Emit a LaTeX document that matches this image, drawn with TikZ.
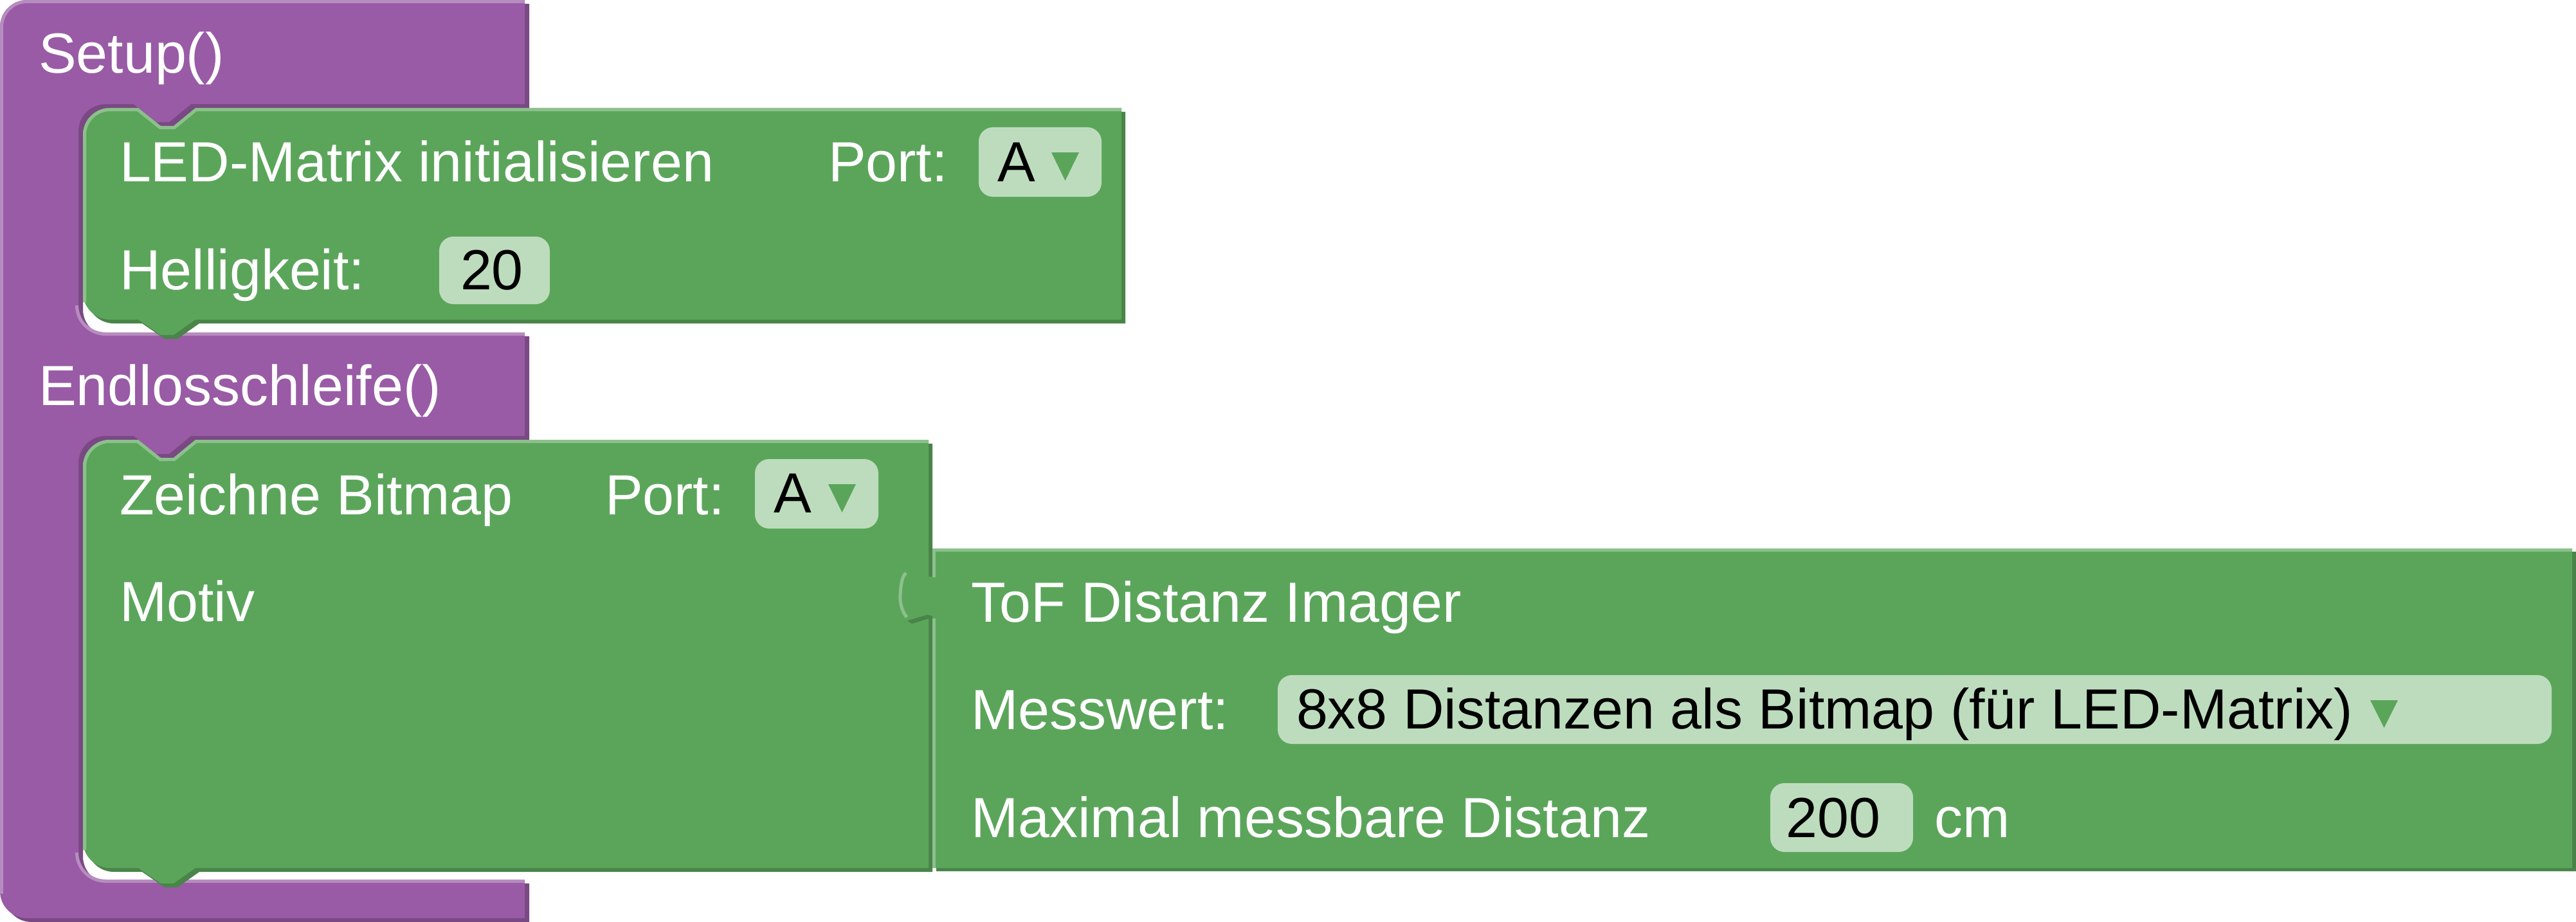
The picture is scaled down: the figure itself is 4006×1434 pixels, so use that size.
\documentclass[tikz,border=0pt]{standalone}
\usepackage{fontspec}
\setmainfont{Liberation Sans}
\definecolor{pmain}{HTML}{995BA5}
\definecolor{pdark}{HTML}{7A4984}
\definecolor{phl}{HTML}{B78CC0}
\definecolor{gmain}{HTML}{5BA55B}
\definecolor{gdark}{HTML}{498449}
\definecolor{ghl}{HTML}{8CC08C}
\definecolor{gfield}{HTML}{BDDCBD}
\tikzset{
  lbl/.style={anchor=base west, inner sep=0pt, outer sep=0pt, text=white, font=\fontsize{88}{100}\selectfont},
  fld/.style={lbl, text=black},
  fbox/.style={fill=gfield, rounded corners=22pt},
  hlp/.style={draw=phl, line width=5pt},
  hlg/.style={draw=ghl, line width=5pt},
  pshape/.style={insert path={(0,42) arc[start angle=180,end angle=270,radius=42] -- (816,0) -- (816,162) -- (297,162) -- (263,190) -- (243,190) -- (208,162) -- (164,162) arc[start angle=270,end angle=180,radius=42] -- (122,475) arc[start angle=180,end angle=90,radius=42] -- (816,517) -- (816,678) -- (297,678) -- (263,706) -- (243,706) -- (208,678) -- (164,678) arc[start angle=270,end angle=180,radius=42] -- (122,1326) arc[start angle=180,end angle=90,radius=42] -- (816,1368) -- (816,1428) -- (42,1428) arc[start angle=90,end angle=180,radius=42] -- cycle}},
  gashape/.style={insert path={(129,210) arc[start angle=180,end angle=270,radius=42] -- (215,168) -- (250,196) -- (270,196) -- (304,168) -- (1744,168) -- (1744,497) -- (304,497) -- (270,521) -- (250,521) -- (215,497) -- (171,497) arc[start angle=90,end angle=180,radius=42] -- cycle}},
  gbshape/.style={insert path={(129,726) arc[start angle=180,end angle=270,radius=42] -- (215,684) -- (250,712) -- (270,712) -- (304,684) -- (1444,684) -- (1444,1350) -- (304,1350) -- (270,1374) -- (250,1374) -- (215,1350) -- (171,1350) arc[start angle=90,end angle=180,radius=42] -- cycle}},
  tshape/.style={insert path={(1450,853) -- (4000,853) -- (4000,1350) -- (1450,1350) -- (1450,958) -- (1442,956) -- (1412,965) .. controls (1400,960) and (1396,940) .. (1397,925) .. controls (1398,905) and (1400,892) .. (1407,888) .. controls (1420,886) and (1440,898) .. (1450,897) -- cycle}}
}
\begin{document}
\begin{tikzpicture}[x=1pt,y=-1pt]
\useasboundingbox (0,0) rectangle (4006,1434);
% purple C block
\path[fill=pdark, shift={(7,6)}] [pshape];
\path[fill=pmain] [pshape];
\draw[hlp] (2.5,1390) -- (2.5,42) arc[start angle=180,end angle=270,radius=39.5] -- (816,2.5);
\draw[hlp] (119.5,475) arc[start angle=180,end angle=90,radius=44.5] -- (816,519.5);
\draw[hlp] (119.5,1326) arc[start angle=180,end angle=90,radius=44.5] -- (816,1370.5);
% green block 1
\path[fill=gdark, shift={(6,6)}] [gashape];
\path[fill=gmain] [gashape];
\draw[hlg] (131.5,470) -- (131.5,210) arc[start angle=180,end angle=270,radius=39.5] -- (214,170.5) -- (249,198.5) -- (271,198.5) -- (305,170.5) -- (1744,170.5);
% green block 2
\path[fill=gdark, shift={(6,6)}] [gbshape];
\path[fill=gmain] [gbshape];
\draw[hlg] (131.5,1322) -- (131.5,726) arc[start angle=180,end angle=270,radius=39.5] -- (214,686.5) -- (249,714.5) -- (271,714.5) -- (305,686.5) -- (1444,686.5);
% ToF block
\path[fill=gdark, shift={(6,5)}] [tshape];
\path[fill=gmain] [tshape];
\draw[hlg] (1452.5,898) -- (1452.5,855.5) -- (4000,855.5);
\draw[hlg] (1452.5,962) -- (1452.5,1350);
\draw[hlg] (1410,960) .. controls (1402,950) and (1399,935) .. (1400,925) .. controls (1401,908) and (1403,896) .. (1409,891);
% fields
\fill[fbox] (683,368) rectangle (855,473);
\fill[fbox] (1522,198) rectangle (1713,306);
\fill[fbox] (1174,714) rectangle (1366,822);
\fill[fbox] (1987,1050) rectangle (3968,1157);
\fill[fbox] (2753,1218) rectangle (2975,1325);
\fill[gmain] (1635,237) -- (1678,237) -- (1656.5,281) -- cycle;
\fill[gmain] (1288,753) -- (1331,753) -- (1309.5,797) -- cycle;
\fill[gmain] (3686,1089) -- (3729,1089) -- (3707.5,1132) -- cycle;
% texts
\node[lbl] (setup) at (60,114) {Setup()};
\node[lbl] (endl) at (60,630) {Endlosschleife()};
\node[lbl] (led) at (186,282) {LED-Matrix initialisieren};
\node[lbl] (port1) at (1288,282) {Port:};
\node[fld, anchor=base] (a1) at (1581,282) {A};
\node[lbl] (hell) at (186,450) {Helligkeit:};
\node[fld, anchor=base] (v20) at (765,450) {20};
\node[lbl] (zb) at (186,800) {Zeichne Bitmap};
\node[lbl] (port2) at (941,800) {Port:};
\node[fld, anchor=base] (a2) at (1233,797) {A};
\node[lbl] (motiv) at (186,966) {Motiv};
\node[lbl] (tof) at (1510,967) {ToF Distanz Imager};
\node[lbl] (mess) at (1510,1134) {Messwert:};
\node[fld] (mode) at (2016,1133) {8x8 Distanzen als Bitmap (für LED-Matrix)};
\node[lbl] (maxd) at (1510,1302) {Maximal messbare Distanz};
\node[fld, anchor=base] (v200) at (2851,1302) {200};
\node[lbl] (cm) at (3008,1302) {cm};
\end{tikzpicture}
\end{document}
